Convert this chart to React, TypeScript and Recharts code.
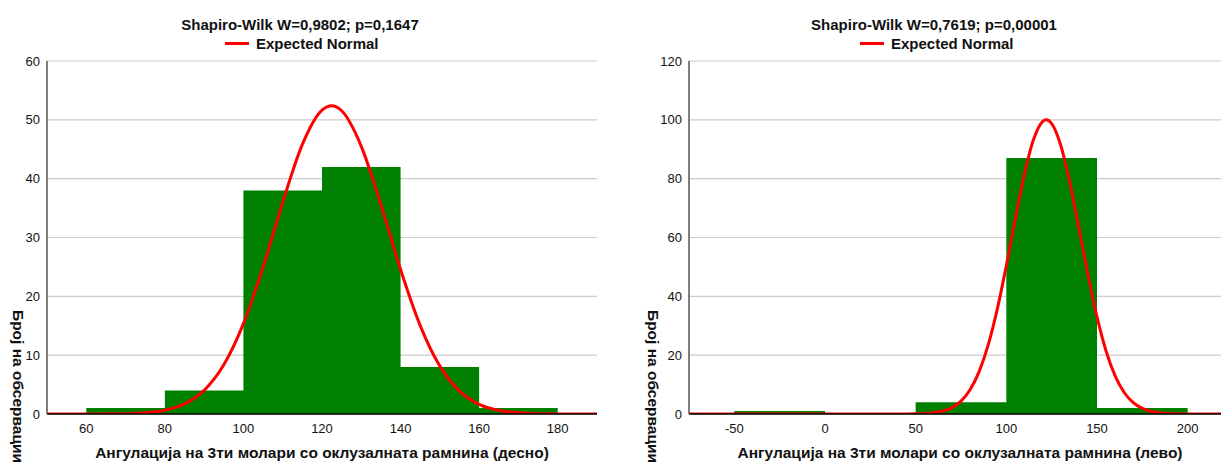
import React from 'react';
import { ComposedChart, Area, Line, XAxis, YAxis, CartesianGrid } from 'recharts';

// Left panel: angulation, right side (десно)
const leftBinStarts = [60, 80, 100, 120, 140, 160];
const leftBinCounts = [1, 4, 38, 42, 8, 1];
const leftBinWidth = 20;
const leftCurveX = [50, 55, 60, 65, 70, 75, 80, 85, 90, 95, 100, 105, 110, 115, 120, 122.5, 125, 130, 135, 140, 145, 150, 155, 160, 165, 170, 175, 180, 185, 190];
const leftCurveY = [0, 0, 0, 0.02, 0.06, 0.22, 0.65, 1.71, 4.02, 8.36, 15.36, 25.0, 35.98, 45.83, 51.67, 52.4, 51.54, 45.5, 35.54, 24.57, 15.03, 8.14, 3.89, 1.65, 0.62, 0.21, 0.06, 0.02, 0, 0];
const leftXTicks = [60, 80, 100, 120, 140, 160, 180];
const leftYTicks = [0, 10, 20, 30, 40, 50, 60];

// Right panel: angulation, left side (лево)
const rightBinStarts = [-50, 0, 50, 100, 150];
const rightBinCounts = [1, 0, 4, 87, 2];
const rightBinWidth = 50;
const rightCurveX = [-75, -50, -25, 0, 25, 45, 50, 55, 60, 65, 70, 75, 80, 85, 90, 95, 100, 105, 110, 115, 120, 122, 125, 130, 135, 140, 145, 150, 155, 160, 165, 170, 175, 180, 185, 190, 195, 200, 210, 225];
const rightCurveY = [0, 0, 0, 0, 0, 0.02, 0.07, 0.17, 0.43, 1.01, 2.18, 4.39, 8.25, 14.42, 23.48, 35.66, 50.42, 66.44, 81.57, 93.3, 99.43, 100, 98.7, 91.35, 78.74, 63.25, 47.33, 32.99, 21.43, 12.97, 7.31, 3.84, 1.88, 0.86, 0.36, 0.14, 0.05, 0.02, 0, 0];
const rightXTicks = [-50, 0, 50, 100, 150, 200];
const rightYTicks = [0, 20, 40, 60, 80, 100, 120];

const titles = ['Shapiro-Wilk W=0,9802; p=0,1647', 'Shapiro-Wilk W=0,7619; p=0,00001'];
const legendLabel = 'Expected Normal';
const xTitles = [
  'Ангулација на 3ти молари со оклузалната рамнина (десно)',
  'Ангулација на 3ти молари со оклузалната рамнина (лево)',
];
const yTitle = 'Број на обсервации';

type Row = { x: number; normal: number; count: number };

function buildRows(curveX: number[], curveY: number[], starts: number[], counts: number[], w: number): Row[] {
  return curveX.map((x, i) => {
    const bin = starts.findIndex((s) => x >= s && x < s + w);
    return { x, normal: curveY[i], count: bin >= 0 ? counts[bin] : 0 };
  });
}

const leftRows = buildRows(leftCurveX, leftCurveY, leftBinStarts, leftBinCounts, leftBinWidth);
const rightRows = buildRows(rightCurveX, rightCurveY, rightBinStarts, rightBinCounts, rightBinWidth);

const FRAME = '#555555';
const TICK_TEXT = { fontSize: 13, fill: '#111' };

type PanelProps = {
  rows: Row[];
  width: number;
  margin: { top: number; right: number; bottom: number; left: number };
  xDomain: [number, number];
  xTicks: number[];
  yDomain: [number, number];
  yTicks: number[];
};

function HistogramPanel({ rows, width, margin, xDomain, xTicks, yDomain, yTicks }: PanelProps) {
  return (
    <ComposedChart width={width} height={462} data={rows} margin={margin}>
      <CartesianGrid vertical={false} stroke="#cccccc" strokeWidth={1.2} />
      <XAxis
        dataKey="x"
        type="number"
        domain={xDomain}
        ticks={xTicks}
        interval={0}
        allowDataOverflow
        height={30}
        tickSize={0}
        tickMargin={10}
        axisLine={{ stroke: '#000', strokeWidth: 1.5 }}
        tick={TICK_TEXT}
      />
      <XAxis
        xAxisId="bottomInner"
        dataKey="x"
        type="number"
        domain={xDomain}
        ticks={xTicks}
        interval={0}
        allowDataOverflow
        mirror
        height={0}
        tick={false}
        axisLine={false}
        tickSize={4}
        tickLine={{ stroke: '#222' }}
      />
      <XAxis
        xAxisId="top"
        orientation="top"
        dataKey="x"
        type="number"
        domain={xDomain}
        ticks={xTicks}
        interval={0}
        allowDataOverflow
        mirror
        height={0}
        tick={false}
        axisLine={{ stroke: FRAME, strokeWidth: 1.5 }}
        tickSize={4}
        tickLine={{ stroke: FRAME }}
      />
      <YAxis
        type="number"
        domain={yDomain}
        ticks={yTicks}
        interval={0}
        allowDataOverflow
        width={40}
        tickSize={0}
        tickMargin={7}
        axisLine={{ stroke: FRAME, strokeWidth: 1.5 }}
        tick={TICK_TEXT}
      />
      <YAxis
        yAxisId="right"
        orientation="right"
        type="number"
        domain={yDomain}
        ticks={yTicks}
        interval={0}
        allowDataOverflow
        mirror
        width={0}
        tick={false}
        axisLine={{ stroke: FRAME, strokeWidth: 1.5 }}
        tickSize={4}
        tickLine={{ stroke: FRAME }}
      />
      <Area
        type="stepAfter"
        dataKey="count"
        fill="#008000"
        fillOpacity={1}
        stroke="none"
        baseValue={0}
        isAnimationActive={false}
      />
      <Line
        type="monotone"
        dataKey="normal"
        stroke="#ff0000"
        strokeWidth={3}
        dot={false}
        isAnimationActive={false}
      />
    </ComposedChart>
  );
}

const boldText = { fontSize: 15, fontWeight: 700, fill: '#111' } as const;
const axisTitleText = { fontSize: 15.5, fontWeight: 700, fill: '#111' } as const;

function Labels() {
  return (
    <svg width={1221} height={462} style={{ position: 'absolute', left: 0, top: 0, pointerEvents: 'none' }}>
      {/* left panel */}
      <text x={300} y={29.5} textAnchor="middle" {...boldText}>{titles[0]}</text>
      <line x1={225} y1={43.5} x2={249} y2={43.5} stroke="#ff0000" strokeWidth={3} />
      <text x={256} y={49} {...boldText}>{legendLabel}</text>
      <text x={322} y={458} textAnchor="middle" {...axisTitleText}>{xTitles[0]}</text>
      <text x={13} y={310} transform="rotate(90 13 310)" {...axisTitleText}>{yTitle}</text>
      {/* right panel */}
      <text x={934} y={29.5} textAnchor="middle" {...boldText}>{titles[1]}</text>
      <line x1={860} y1={43.5} x2={884} y2={43.5} stroke="#ff0000" strokeWidth={3} />
      <text x={891} y={49} {...boldText}>{legendLabel}</text>
      <text x={960} y={458} textAnchor="middle" {...axisTitleText}>{xTitles[1]}</text>
      <text x={648} y={310} transform="rotate(90 648 310)" {...axisTitleText}>{yTitle}</text>
    </svg>
  );
}

export default function App() {
  return (
    <div
      style={{
        position: 'fixed',
        left: 0,
        top: 0,
        width: 1221,
        height: 462,
        overflow: 'hidden',
        background: '#fff',
        fontFamily: '"Liberation Sans", Arial, sans-serif',
      }}
    >
      <div style={{ position: 'absolute', left: 0, top: 0 }}>
        <HistogramPanel
          rows={leftRows}
          width={610}
          margin={{ top: 61, right: 13, bottom: 18, left: 7 }}
          xDomain={[50, 190]}
          xTicks={leftXTicks}
          yDomain={[0, 60]}
          yTicks={leftYTicks}
        />
      </div>
      <div style={{ position: 'absolute', left: 610, top: 0 }}>
        <HistogramPanel
          rows={rightRows}
          width={640}
          margin={{ top: 61, right: 17, bottom: 18, left: 39 }}
          xDomain={[-75, 225]}
          xTicks={rightXTicks}
          yDomain={[0, 120]}
          yTicks={rightYTicks}
        />
      </div>
      <Labels />
    </div>
  );
}
